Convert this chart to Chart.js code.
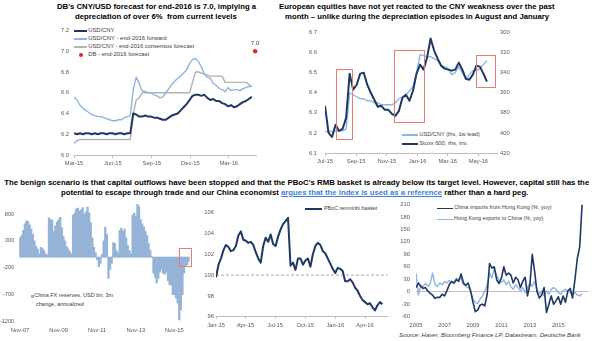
<!DOCTYPE html>
<html>
<head>
<meta charset="utf-8">
<script src="https://cdn.jsdelivr.net/npm/chart.js@4.4.1/dist/chart.umd.min.js"></script>
<style>
  body { margin: 0; width: 600px; height: 341px; position: relative; overflow: hidden; background: #fff;
         font-family: "Liberation Sans", Arial, sans-serif; }
  canvas { position: absolute; }
  .txt { position: absolute; white-space: pre; line-height: 1; }
  .title { font-weight: bold; color: #000; }
  .lg { color: #404040; }
  .src { font-style: italic; color: #404040; }
  .sw { position: absolute; }
  .title a { color: #3F7FD6; text-decoration: underline; }
</style>
</head>
<body>
<!-- titles -->
<div class="txt title" data-cx="156.5" data-cy="7.3" data-w="199">DB's CNY/USD forecast for end-2016 is 7.0, implying a</div>
<div class="txt title" data-cx="156" data-cy="16.7" data-w="162">depreciation of over 6%  from current levels</div>
<div class="txt title" data-cx="417" data-cy="7.3" data-w="276">European equities have not yet reacted to the CNY weakness over the past</div>
<div class="txt title" data-cx="417" data-cy="16.7" data-w="264">month – unlike during the depreciation episodes in August and January</div>
<div class="txt title" data-cx="296.7" data-cy="183.3" data-w="585">The benign scenario is that capital outflows have been stopped and that the PBoC's RMB basket is already below its target level. However, capital still has the</div>
<div class="txt title" data-cx="295" data-cy="192.7" data-w="468">potential to escape through trade and our China economist <a>argues that the index is used as a reference</a> rather than a hard peg.</div>
<div class="txt src" data-cx="490" data-cy="335.7" data-w="182">Source: Haver, Bloomberg Finance LP, Datastream, Deutsche Bank</div>

<!-- legends -->
<div class="sw" style="left:74px;top:30px;width:13px;height:2px;background:#1F3864"></div>
<div class="sw" style="left:74px;top:38.3px;width:13px;height:1.4px;background:#8EB4E3"></div>
<div class="sw" style="left:74px;top:46.3px;width:13px;height:1.4px;background:#B2B2B2"></div>
<div class="sw" style="left:79px;top:53px;width:4px;height:4px;border-radius:2px;background:#E3262F"></div>
<div class="txt lg" data-x="88.3" data-cy="31" data-w="26">USD/CNY</div>
<div class="txt lg" data-x="88.3" data-cy="39" data-w="78.3">USD/CNY - end-2016 forward</div>
<div class="txt lg" data-x="88.3" data-cy="47" data-w="106">USD/CNY - end-2016 consensus forecast</div>
<div class="txt lg" data-x="88.3" data-cy="55" data-w="61">DB - end-2016 forecast</div>

<div class="sw" style="left:402px;top:134.3px;width:16px;height:1.4px;background:#8EB4E3"></div>
<div class="sw" style="left:402px;top:143px;width:16px;height:2.2px;background:#1F3864"></div>
<div class="txt lg" data-x="419.3" data-cy="135" data-w="60.7">USD/CNY (lhs, 1w lead)</div>
<div class="txt lg" data-x="419.3" data-cy="144" data-w="48.3">Stoxx 600, rhs, inv.</div>

<div class="sw" style="left:30.5px;top:294.5px;width:3px;height:3px;background:#95B3D7"></div>
<div class="txt lg" data-x="34.3" data-cy="296" data-w="79">China FX reserves, USD bn, 3m</div>
<div class="txt lg" data-x="36" data-cy="305" data-w="48">change, annualized</div>

<div class="sw" style="left:305px;top:208px;width:17px;height:2px;background:#1F3864"></div>
<div class="txt lg" data-x="324" data-cy="209" data-w="53.3">PBoC renminbi basket</div>

<div class="sw" style="left:437px;top:207.5px;width:16px;height:1.7px;background:#1F3864"></div>
<div class="sw" style="left:437px;top:218.6px;width:16px;height:1.4px;background:#8EB4E3"></div>
<div class="txt lg" data-x="454" data-cy="208.3" data-w="97.7">China imports from Hong Kong (%, yoy)</div>
<div class="txt lg" data-x="454" data-cy="219.3" data-w="89.3">Hong Kong exports to China (%, yoy)</div>

<canvas id="c1" width="226" height="152" style="left:36px;top:22px"></canvas>
<canvas id="c2" width="234" height="152" style="left:290px;top:21px"></canvas>
<canvas id="c3" width="200" height="146" style="left:0px;top:195px"></canvas>
<canvas id="c4" width="192" height="146" style="left:198px;top:195px"></canvas>
<canvas id="c5" width="202" height="137" style="left:398px;top:195px"></canvas>

<script>
// panel 1: USD/CNY, weekly from 1 Mar 2015
const p1Start = "2015-03-01";
const usdCny = [6.21, 6.20, 6.21, 6.20, 6.21, 6.21, 6.20, 6.21, 6.20, 6.21,
  6.21, 6.20, 6.21, 6.21, 6.20, 6.21, 6.21, 6.20, 6.21, 6.21,
  6.40, 6.39, 6.37, 6.37, 6.38, 6.37, 6.37, 6.36, 6.36, 6.35,
  6.34, 6.34, 6.36, 6.38, 6.39, 6.40, 6.43, 6.46, 6.49, 6.53,
  6.57, 6.58, 6.58, 6.57, 6.58, 6.55, 6.53, 6.54, 6.52, 6.52,
  6.50, 6.49, 6.47, 6.48, 6.46, 6.47, 6.49, 6.51, 6.52, 6.54, 6.56];
const usdCnyFwd = [6.56, 6.53, 6.48, 6.45, 6.43, 6.41, 6.39, 6.38, 6.37, 6.37,
  6.36, 6.35, 6.34, 6.33, 6.33, 6.34, 6.34, 6.36, 6.37, 6.38,
  6.63, 6.75, 6.69, 6.62, 6.61, 6.60, 6.60, 6.58, 6.57, 6.55,
  6.56, 6.60, 6.64, 6.68, 6.71, 6.74, 6.76, 6.79, 6.82, 6.88,
  6.92, 6.93, 6.90, 6.85, 6.78, 6.75, 6.74, 6.69, 6.67, 6.64,
  6.63, 6.61, 6.65, 6.62, 6.63, 6.63, 6.62, 6.64, 6.65, 6.66, 6.66];
const usdCnyCons = [6.11, 6.14, 6.15, 6.15, 6.15, 6.15, 6.15, 6.15, 6.15, 6.15,
  6.15, 6.15, 6.15, 6.15, 6.15, 6.15, 6.15, 6.15, 6.15, 6.15,
  6.40, 6.53, 6.55, 6.60, 6.60, 6.60, 6.60, 6.60, 6.60, 6.60,
  6.60, 6.60, 6.60, 6.60, 6.60, 6.60, 6.60, 6.60, 6.60, 6.60,
  6.70, 6.80, 6.80, 6.79, 6.78, 6.77, 6.76, 6.76, 6.76, 6.76,
  6.76, 6.70, 6.70, 6.70, 6.70, 6.70, 6.70, 6.70, 6.70, 6.68, 6.66];
const dbForecastDate = "2016-05-02";
const dbForecast = 7.0;
const p1TickDates = ["2015-03-01", "2015-06-01", "2015-09-01", "2015-12-01", "2016-03-01"];
const p1TickLabels = ["Mar-15", "Jun-15", "Sep-15", "Dec-15", "Mar-16"];
const p1YTicks = [6.0, 6.2, 6.4, 6.6, 6.8, 7.0, 7.2];

// panel 2: CNY vs Stoxx 600, weekly from 1 Jul 2015
const p2Start = "2015-07-01";
const usdCnyLead = [6.205, 6.21, 6.205, 6.21, 6.21, 6.21, 6.22, 6.40, 6.39, 6.38,
  6.37, 6.37, 6.36, 6.36, 6.35, 6.35, 6.34, 6.34, 6.34, 6.34,
  6.35, 6.37, 6.38, 6.39, 6.41, 6.43, 6.50, 6.59, 6.585, 6.58,
  6.58, 6.57, 6.56, 6.53, 6.53, 6.52, 6.49, 6.50, 6.53, 6.50,
  6.47, 6.49, 6.51, 6.51, 6.52, 6.54, 6.56];
const stoxx600 = [373, 400, 404, 392, 398, 396, 385, 341, 357, 352,
  341, 340, 352, 360, 367, 374, 373, 377, 377, 381,
  383, 378, 365, 362, 368, 358, 341, 332, 337, 325,
  306, 318, 326, 333, 336, 337, 338, 337, 330, 337,
  346, 347, 342, 333, 334, 341, 349];
const p2TickDates = ["2015-07-01", "2015-09-01", "2015-11-01", "2016-01-01", "2016-03-01", "2016-05-01"];
const p2TickLabels = ["Jul-15", "Sep-15", "Nov-15", "Jan-16", "Mar-16", "May-16"];
const p2LeftTicks = [6.1, 6.2, 6.3, 6.4, 6.5, 6.6, 6.7];
const p2RightTicks = [300, 320, 340, 360, 380, 400, 420];
// highlighted episodes: from, to, upper, lower (lhs units)
const p2Boxes = [["2015-07-23", "2015-08-24", 6.52, 6.17],
  ["2015-11-15", "2016-01-14", 6.615, 6.255],
  ["2016-04-26", "2016-06-03", 6.59, 6.43]];

// panel 3: China FX reserves, monthly from Nov 2007
const fxStartYear = 2007, fxStartMonth = 11;
const fxReserves = [360, 400, 500, 620, 680, 660, 600, 520, 420, 300,
  200, 150, 60, 180, 160, 120, 60, 40, 730, 700,
  690, 480, 580, 650, 700, 740, 550, 380, 300, 200,
  150, 100, 60, 780, 820, 900, 910, 860, 880, 920,
  800, 840, 930, 820, 640, 360, 180, 80, -50, -180,
  -120, 50, 300, 560, 420, -400, -230, -120, 270, 250,
  120, 80, 500, 540, 480, 520, 360, 220, 120, 60,
  780, 820, 760, 980, 940, 700, 620, 560, 480, 400,
  250, 120, 10, -300, -380, -480, -400, -280, -230, -300,
  -320, -280, -440, -520, -520, -700, -700, -760, -860, -1170,
  -980, -700, -300, -170, -140, -80];
const fxTickEvery = 24;
const fxYTicks = [-1200, -700, -200, 300, 800];
const fxBoxes = [[98.9, 106.0, 160, -160]];

// panel 4: PBoC renminbi basket, every quarter month from 1 Jan 2015
const p4Start = "2015-01-01";
const p4StepDays = 7.6;
const basket = [99.8, 101.0, 101.6, 102.4, 102.9, 102.7, 102.3, 102.4, 102.8, 103.8,
  104.2, 103.4, 103.3, 103.1, 103.2, 102.9, 102.2, 101.6, 101.2, 102.8,
  103.6, 103.2, 103.9, 103.0, 102.8, 103.7, 104.4, 104.9, 105.2, 105.5,
  100.9, 101.2, 100.5, 101.6, 101.6, 101.0, 101.4, 101.6, 100.8, 102.0,
  102.8, 103.1, 102.9, 102.3, 102.1, 101.6, 101.1, 100.6, 100.2, 100.7,
  100.6, 100.4, 99.4, 99.4, 99.6, 99.3, 98.8, 98.5, 98.0, 97.6,
  97.4, 97.2, 97.3, 96.9, 96.6, 97.1, 97.4, 97.2];
const basketTarget = 100;
const p4TickDates = ["2015-01-01", "2015-04-01", "2015-07-01", "2015-10-01", "2016-01-01", "2016-04-01"];
const p4TickLabels = ["Jan-15", "Apr-15", "Jul-15", "Oct-15", "Jan-16", "Apr-16"];
const p4YTicks = [96, 98, 100, 102, 104, 106];

// panel 5: HK - China trade, every second month from Jan 2005
const tradeStepMonths = 2;
const chinaImportsHK = [10, 21, 13, 8, 10, 2, -4, -8, -16, -13,
  -14, -6, -10, 2, 17, 25, 21, 29, 25, 43,
  21, 16, 21, 2, -25, -48, -44, -32, -30, -34,
  -6, 68, 57, 60, 29, 20, 33, 60, 40, 45,
  40, 21, 35, 29, 10, 25, 35, -10, 17, 90,
  49, 0, -15, -8, 10, -50, -30, -10, -30, -22,
  -12, -30, -10, -25, 2, 8, -15, 30, 80, 108, 210];
const hkExportsChina = [45, -8, 15, 13, 20, 13, 20, 45, 17, 13,
  21, 17, 25, 21, 27, 22, 20, 33, 30, 33,
  17, 13, 10, 4, -18, -26, -28, -18, -10, 2,
  17, 45, 33, 55, 40, 28, 22, 29, 17, 25,
  12, 6, 17, 10, 2, 10, -2, 10, 21, 13,
  25, 6, -6, 2, -10, 2, -6, 6, 10, 6,
  -2, -6, 2, 6, 2, -2, -6, -2, -8, -10, -5];
const tradeTickMonths = [0, 24, 48, 72, 96, 120];
const tradeTickLabels = ["2005", "2007", "2009", "2011", "2013", "2015"];
const tradeYTicks = [-60, -30, 0, 30, 60, 90, 120, 150, 180, 210];

// ---------------------------------------------------------------
const NAVY = "#1F3864", LIGHT = "#8EB4E3", GRAY = "#B2B2B2", RED = "#E3262F";
const BAR = "#95B3D7", AXIS = "#BFBFBF", TICK = "#595959", BOX = "#E67C73";
const FONT = { family: "'Liberation Sans', Arial, sans-serif", size: 5.8 };
const MONTHS = ["Jan", "Feb", "Mar", "Apr", "May", "Jun", "Jul", "Aug", "Sep", "Oct", "Nov", "Dec"];

// size the html titles / legend texts to the widths in the picture
document.querySelectorAll(".txt").forEach(function (el) {
  const w = +el.dataset.w;
  el.style.fontSize = "10px";
  const fs = 10 * w / el.getBoundingClientRect().width;
  el.style.fontSize = fs.toFixed(2) + "px";
  const left = el.dataset.cx ? +el.dataset.cx - w / 2 : +el.dataset.x;
  el.style.left = left + "px";
  el.style.top = (+el.dataset.cy - fs * 0.53) + "px";
});

const dayOf = s => Date.parse(s) / 864e5;
const series = (vals, start, step) => vals.map((v, i) => ({ x: start + i * step, y: v }));
const plain = v => String(v);

function xLinear(min, max, vals, labels, height, pad, tick, border) {
  return {
    type: "linear", min: min, max: max,
    afterBuildTicks: s => { s.ticks = vals.map(v => ({ value: v })); },
    afterFit: s => { s.height = height; },
    ticks: { autoSkip: false, maxRotation: 0, padding: pad, font: FONT, color: TICK,
             callback: (v, i) => labels[i] },
    grid: { display: tick > 0, drawOnChartArea: false, drawTicks: tick > 0, tickLength: tick, color: AXIS },
    border: { display: border, color: AXIS }
  };
}

function yLinear(min, max, vals, width, pad, extra) {
  return Object.assign({
    type: "linear", min: min, max: max,
    afterBuildTicks: s => { s.ticks = vals.map(v => ({ value: v })); },
    afterFit: s => { s.width = width; },
    ticks: { padding: pad, font: FONT, color: TICK, callback: plain },
    grid: { display: false, drawTicks: false },
    border: { display: false }
  }, extra);
}

function baseOpts(padding, scales) {
  return {
    responsive: false, animation: false, devicePixelRatio: 1,
    layout: { padding: padding },
    plugins: { legend: { display: false }, tooltip: { enabled: false } },
    elements: { point: { radius: 0 }, line: { tension: 0, borderJoinStyle: "round" } },
    scales: scales
  };
}

// red frames around episodes, given in data units
function boxPlugin(boxes, xId, yId, toX) {
  return {
    id: "boxes",
    afterDatasetsDraw(chart) {
      const ctx = chart.ctx, xs = chart.scales[xId], ys = chart.scales[yId];
      ctx.save();
      ctx.strokeStyle = BOX;
      ctx.lineWidth = 1;
      boxes.forEach(function (b) {
        const x1 = Math.round(xs.getPixelForValue(toX(b[0]))) + 0.5;
        const x2 = Math.round(xs.getPixelForValue(toX(b[1]))) + 0.5;
        const y1 = Math.round(ys.getPixelForValue(b[2])) + 0.5;
        const y2 = Math.round(ys.getPixelForValue(b[3])) + 0.5;
        ctx.strokeRect(x1, y1, x2 - x1, y2 - y1);
      });
      ctx.restore();
    }
  };
}

// panel 1
const p1Origin = dayOf(p1Start);
new Chart(document.getElementById("c1"), {
  type: "line",
  data: {
    datasets: [
      { data: series(usdCny, 0, 7), borderColor: NAVY, borderWidth: 2 },
      { data: series(usdCnyFwd, 0, 7), borderColor: LIGHT, borderWidth: 1.4 },
      { data: series(usdCnyCons, 0, 7), borderColor: GRAY, borderWidth: 1.4 },
      { data: [{ x: dayOf(dbForecastDate) - p1Origin, y: dbForecast }], showLine: false,
        pointRadius: 2.2, pointBackgroundColor: RED, pointBorderWidth: 0, clip: false }
    ]
  },
  options: baseOpts({ top: 8, right: 6 }, {
    x: xLinear(0, 430, p1TickDates.map(d => dayOf(d) - p1Origin), p1TickLabels, 19, 2, 3, true),
    y: yLinear(6.0, 7.2, p1YTicks, 38, 5, {
      ticks: { padding: 5, font: FONT, color: TICK, callback: v => v.toFixed(1) } })
  }),
  plugins: [{
    id: "dbLabel",
    afterDatasetsDraw(chart) {
      const p = chart.getDatasetMeta(3).data[0];
      const ctx = chart.ctx;
      ctx.save();
      ctx.font = "5.8px 'Liberation Sans', Arial";
      ctx.fillStyle = "#404040";
      ctx.textAlign = "center";
      ctx.textBaseline = "middle";
      ctx.fillText(dbForecast.toFixed(1), p.x, p.y - 8);
      ctx.restore();
    }
  }]
});

// panel 2
const p2Origin = dayOf(p2Start);
new Chart(document.getElementById("c2"), {
  type: "line",
  data: {
    datasets: [
      { data: series(stoxx600, 0, 7), borderColor: NAVY, borderWidth: 2, yAxisID: "y2" },
      { data: series(usdCnyLead, 0, 7), borderColor: LIGHT, borderWidth: 1.4, yAxisID: "y" }
    ]
  },
  options: baseOpts({ top: 8 }, {
    x: xLinear(0, 342, p2TickDates.map(d => dayOf(d) - p2Origin), p2TickLabels, 20, 2, 3, true),
    y: yLinear(6.1, 6.7, p2LeftTicks, 35, 8, {
      ticks: { padding: 8, font: FONT, color: TICK, callback: v => v.toFixed(1) } }),
    y2: yLinear(300, 420, p2RightTicks, 27, 3, { position: "right", reverse: true })
  }),
  plugins: [boxPlugin(p2Boxes, "x", "y", d => dayOf(d) - p2Origin)]
});

// panel 3
const fxLabels = fxReserves.map(function (_, i) {
  const m = fxStartMonth - 1 + i;
  return MONTHS[m % 12] + "-" + String((fxStartYear + Math.floor(m / 12)) % 100).padStart(2, "0");
});
new Chart(document.getElementById("c3"), {
  type: "bar",
  data: {
    labels: fxLabels,
    datasets: [{ data: fxReserves, backgroundColor: BAR, barPercentage: 1, categoryPercentage: 1, borderWidth: 0 }]
  },
  options: baseOpts({ top: 7, right: 10.3 }, {
    x: {
      type: "category",
      afterBuildTicks: s => { s.ticks = s.ticks.filter(t => t.value % fxTickEvery === 0); },
      afterFit: s => { s.height = 19.5; },
      ticks: { autoSkip: false, maxRotation: 0, padding: 5, font: FONT, color: TICK },
      grid: { display: false, drawTicks: false },
      border: { display: false }
    },
    y: yLinear(-1200, 1000, fxYTicks, 19.2, 5, {
      ticks: { padding: 5, font: { family: FONT.family, size: 5.6 }, color: TICK, callback: plain } })
  }),
  plugins: [boxPlugin(fxBoxes, "x", "y", v => v)]
});

// panel 4
const p4Origin = dayOf(p4Start);
new Chart(document.getElementById("c4"), {
  type: "line",
  data: {
    datasets: [
      { data: series(basket, 0, p4StepDays), borderColor: NAVY, borderWidth: 2 },
      { data: [{ x: 0, y: basketTarget }, { x: 525, y: basketTarget }], borderColor: "#A6A6A6",
        borderWidth: 1, borderDash: [3, 2] }
    ]
  },
  options: baseOpts({ top: 17.7, right: 2.4 }, {
    x: xLinear(0, 525, p4TickDates.map(d => dayOf(d) - p4Origin), p4TickLabels, 24.3, 3, 2, true),
    y: yLinear(96, 106, p4YTicks, 18, 2)
  })
});

// panel 5
new Chart(document.getElementById("c5"), {
  type: "line",
  data: {
    datasets: [
      { data: series(chinaImportsHK, 0, tradeStepMonths), borderColor: NAVY, borderWidth: 1.6 },
      { data: series(hkExportsChina, 0, tradeStepMonths), borderColor: LIGHT, borderWidth: 1.4 }
    ]
  },
  options: baseOpts({ top: 8.3, right: 12 }, {
    x: xLinear(0, 145, tradeTickMonths, tradeTickLabels, 15.3, 5, 0, false),
    y: yLinear(-60, 210, tradeYTicks, 18, 6, {
      grid: { display: true, drawTicks: false, color: c => c.tick && c.tick.value === 0 ? AXIS : "rgba(0,0,0,0)" } })
  })
});
</script>
</body>
</html>
